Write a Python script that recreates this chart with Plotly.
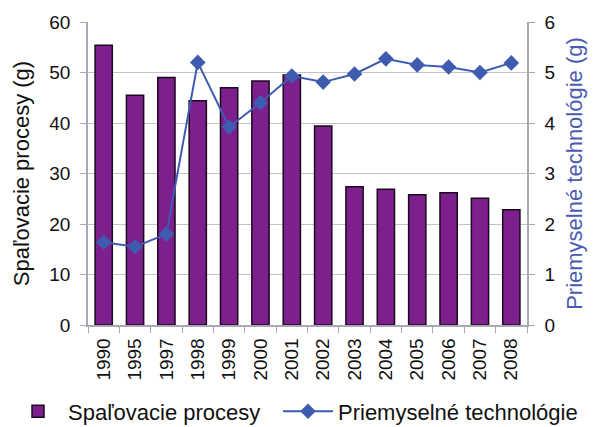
import plotly.graph_objects as go

years = ["1990", "1995", "1997", "1998", "1999", "2000", "2001", "2002",
         "2003", "2004", "2005", "2006", "2007", "2008"]
spalovacie = [55.4, 45.5, 49.0, 44.4, 47.0, 48.3, 49.5, 39.4,
              27.4, 26.9, 25.8, 26.2, 25.1, 22.8]
priemyselne = [1.64, 1.55, 1.80, 5.20, 3.92, 4.40, 4.93, 4.81,
               4.97, 5.27, 5.15, 5.11, 5.00, 5.19]

font_family = "Liberation Sans, Arial, sans-serif"
axis_grey = "#a8a8b4"

fig = go.Figure()
fig.add_trace(go.Bar(
    x=years, y=spalovacie, name="Spaľovacie procesy",
    marker=dict(color="#7E1F8E", line=dict(color="#1a0a1e", width=1.5)),
    width=0.55, yaxis="y", legend="legend",
))
fig.add_trace(go.Scatter(
    x=years, y=priemyselne, name="Priemyselné technológie",
    mode="lines+markers",
    line=dict(color="#3F5BB0", width=2),
    marker=dict(symbol="diamond", size=12, color="#3F5BB0"),
    yaxis="y2", legend="legend2",
))

leg_common = dict(orientation="h", xref="container", yref="container",
                  yanchor="middle", y=0.055, font=dict(size=22),
                  bgcolor="rgba(0,0,0,0)", itemwidth=50)

fig.update_layout(
    width=600, height=427,
    margin=dict(l=80, r=81, t=14, b=110, autoexpand=False),
    paper_bgcolor="white", plot_bgcolor="white",
    font=dict(family=font_family, size=18, color="#111111"),
    showlegend=True,
    legend=dict(x=0.0, xanchor="left", **leg_common),
    legend2=dict(x=0.45, xanchor="left", **leg_common),
    xaxis=dict(
        type="category", range=[-0.5, len(years) - 0.5],
        tickangle=-90, showgrid=False, automargin=False,
        showline=True, linecolor=axis_grey, linewidth=1.5,
        ticks="outside", tickson="boundaries", ticklen=6, tickcolor=axis_grey,
        tickfont=dict(size=19), ticklabelstandoff=4,
    ),
    yaxis=dict(
        range=[0, 60], dtick=10, showgrid=True, gridcolor="#c4c4c4", gridwidth=1.3,
        showline=True, linecolor=axis_grey, linewidth=1.5, automargin=False,
        ticks="outside", ticklen=6, tickcolor=axis_grey, ticklabelstandoff=6,
        title=dict(text="Spaľovacie procesy (g)", font=dict(size=22), standoff=14),
        tickfont=dict(size=19), zeroline=False,
    ),
    yaxis2=dict(
        range=[0, 6], dtick=1, overlaying="y", side="right", showgrid=False,
        showline=True, linecolor=axis_grey, linewidth=1.5, automargin=False,
        ticks="outside", ticklen=6, tickcolor=axis_grey, ticklabelstandoff=6,
        title=dict(text="Priemyselné technológie (g)", font=dict(size=22, color="#4A5BB0"), standoff=12),
        tickfont=dict(size=19), zeroline=False,
    ),
    bargap=0.45,
)

fig.write_html("out.html")
